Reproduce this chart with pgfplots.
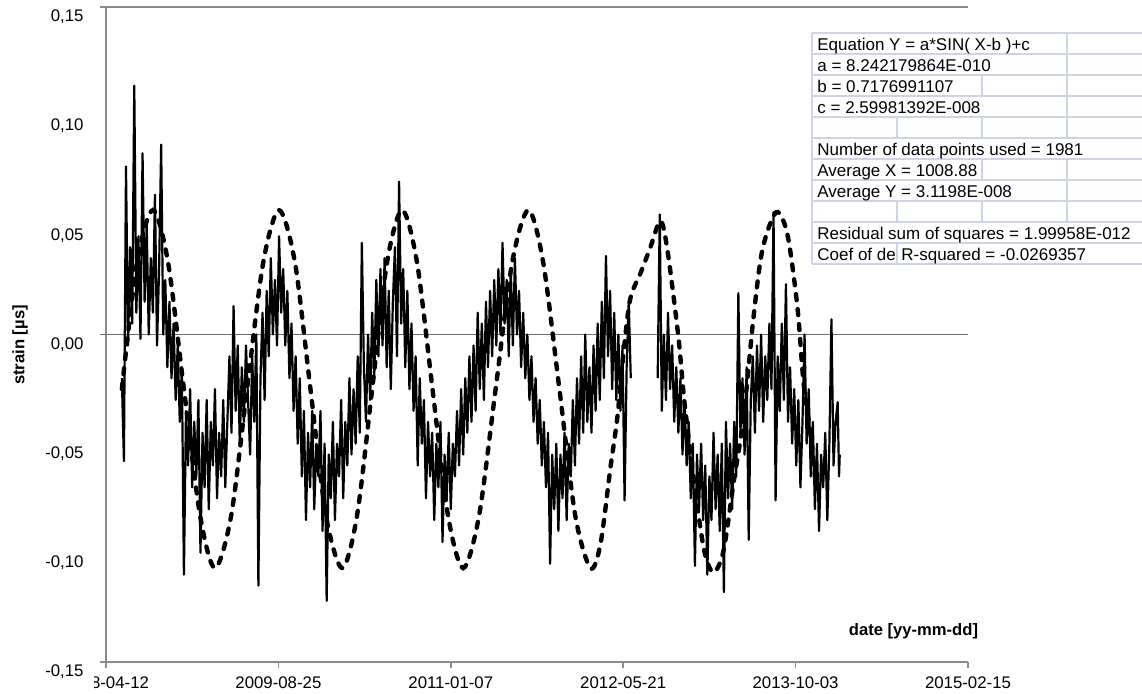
\documentclass[border=0pt]{standalone}
\usepackage{fontspec}
\setmainfont{Liberation Sans}
\usepackage{pgfplots}
\pgfplotsset{compat=1.18}
\definecolor{axgray}{RGB}{140,140,140}
\definecolor{zgray}{RGB}{110,110,110}
\definecolor{gridc}{RGB}{205,213,228}
\begin{document}
\begin{tikzpicture}
\path[use as bounding box] (-53pt,-15.5pt) rectangle (518pt,331pt);
\begin{axis}[
  at={(0,0)}, anchor=south west,
  scale only axis, width=431pt, height=327.5pt,
  xmin=0, xmax=2500, ymin=-0.15, ymax=0.15,
  axis lines*=left,
  axis line style={-, axgray, line width=0.75pt},
  xtick={0,500,1000,1500,2000,2500},
  xticklabels={,2009-08-25,2011-01-07,2012-05-21,2013-10-03,2015-02-15},
  ytick={-0.15,-0.1,-0.05,0,0.05,0.1,0.15},
  yticklabels={{-0,15},{-0,10},{-0,05},{0,00},{0,05},{0,10},{0,15}},
  tick align=outside, major tick length=3pt,
  xtick style={axgray, line width=0.75pt},
  ytick style={draw=none},
  xticklabel style={font=\fontsize{8.4}{10}\selectfont, anchor=north, inner sep=0pt, yshift=-4pt},
  yticklabel style={font=\fontsize{8.4}{10}\selectfont, anchor=east, inner sep=0pt, xshift=-8pt, yshift=-5pt},
  clip=false,
  unbounded coords=jump,
]
\draw[axgray, line width=1pt] ([xshift=-3pt]axis cs:0,0.15) -- (axis cs:2500,0.15);
\draw[zgray, line width=0.75pt] ([xshift=-3pt]axis cs:0,0) -- (axis cs:2500,0);
\draw[axgray, line width=0.75pt] ([xshift=-3pt]axis cs:0,-0.15) -- (axis cs:0,-0.15);
% measured strain
\addplot[black, line width=1.1pt, line join=round] coordinates {
(46,-0.020)(52,-0.058)(58,0.077)(64,-0.005)(70,0.040)(76,0.005)(82,0.114)(88,0.010)(94,0.045)(100,-0.002)
(106,0.083)(112,0.015)(118,0.050)(124,0.000)(130,0.035)(136,0.010)(142,0.064)(148,-0.005)(154,0.030)(160,0.087)
(166,0.000)(172,0.025)(178,-0.015)(184,0.015)(190,-0.020)(196,0.005)(202,-0.030)(208,-0.005)(214,-0.040)(220,-0.015)
(226,-0.110)(232,-0.035)(238,-0.060)(244,-0.025)(250,-0.070)(256,-0.040)(262,-0.065)(268,-0.030)(274,-0.100)(280,-0.045)
(286,-0.070)(292,-0.030)(298,-0.080)(304,-0.040)(310,-0.060)(316,-0.025)(322,-0.075)(328,-0.045)(334,-0.065)(340,-0.030)
(346,-0.070)(352,-0.040)(358,-0.010)(364,-0.045)(370,0.013)(376,-0.035)(382,-0.005)(388,-0.050)(394,-0.015)(400,-0.040)
(406,-0.005)(412,-0.030)(418,-0.055)(424,-0.010)(430,-0.040)(436,0.000)(442,-0.115)(448,-0.020)(454,0.010)(460,-0.030)
(466,0.020)(472,-0.010)(478,0.035)(484,0.000)(490,0.025)(496,-0.005)(502,0.045)(508,0.010)(514,0.030)(520,-0.005)
(526,0.020)(532,-0.020)(538,0.005)(544,-0.035)(550,-0.010)(556,-0.050)(562,-0.020)(568,-0.065)(574,-0.035)(580,-0.085)
(586,-0.045)(592,-0.070)(598,-0.035)(604,-0.080)(610,-0.050)(616,-0.065)(622,-0.035)(628,-0.090)(634,-0.050)(640,-0.122)
(646,-0.055)(652,-0.075)(658,-0.040)(664,-0.085)(670,-0.050)(676,-0.065)(682,-0.030)(688,-0.075)(694,-0.040)(700,-0.060)
(706,-0.020)(712,-0.055)(718,-0.025)(724,-0.050)(730,-0.010)(736,-0.045)(742,0.042)(748,-0.015)(754,-0.040)(760,0.000)
(766,-0.030)(772,0.010)(778,-0.020)(784,0.025)(790,-0.010)(796,0.030)(802,-0.005)(808,0.035)(814,-0.015)(820,0.020)
(826,-0.025)(832,0.015)(838,0.040)(844,-0.010)(850,0.070)(856,0.005)(862,0.030)(868,-0.015)(874,0.020)(880,-0.025)
(886,0.005)(892,-0.035)(898,-0.010)(904,-0.060)(910,-0.020)(916,-0.050)(922,-0.030)(928,-0.075)(934,-0.040)(940,-0.065)
(946,-0.045)(952,-0.085)(958,-0.050)(964,-0.070)(970,-0.040)(976,-0.095)(982,-0.055)(988,-0.075)(994,-0.045)(1000,-0.080)
(1006,-0.050)(1012,-0.065)(1018,-0.035)(1024,-0.060)(1030,-0.025)(1036,-0.055)(1042,-0.020)(1048,-0.045)(1054,-0.010)(1060,-0.040)
(1066,-0.005)(1072,-0.035)(1078,0.010)(1084,-0.025)(1090,0.005)(1096,-0.030)(1102,0.015)(1108,-0.015)(1114,0.020)(1120,-0.010)
(1126,0.025)(1132,-0.005)(1138,0.030)(1144,0.000)(1150,0.042)(1156,0.005)(1162,0.025)(1168,-0.010)(1174,0.030)(1180,-0.005)
(1186,0.035)(1192,0.000)(1198,0.020)(1204,-0.015)(1210,0.010)(1216,-0.020)(1222,0.000)(1228,-0.030)(1234,-0.010)(1240,-0.040)
(1246,-0.020)(1252,-0.050)(1258,-0.030)(1264,-0.060)(1270,-0.040)(1276,-0.070)(1282,-0.045)(1288,-0.105)(1294,-0.055)(1300,-0.080)
(1306,-0.050)(1312,-0.090)(1318,-0.055)(1324,-0.075)(1330,-0.045)(1336,-0.085)(1342,-0.050)(1348,-0.065)(1354,-0.030)(1360,-0.060)
(1366,-0.020)(1372,-0.050)(1378,-0.010)(1384,-0.045)(1390,0.000)(1396,-0.040)(1402,-0.015)(1408,-0.045)(1414,-0.005)(1420,-0.035)
(1426,0.005)(1432,-0.030)(1438,0.015)(1444,-0.020)(1450,0.036)(1456,-0.010)(1462,0.020)(1468,-0.025)(1474,0.010)(1480,-0.030)
(1486,0.000)(1492,-0.035)(1498,-0.005)(1504,-0.076)(1510,-0.015)(1516,0.015)(1522,-0.020)(1560,nan)
(1600,-0.020)(1606,0.055)(1612,-0.035)(1618,0.000)(1624,-0.030)(1630,0.010)(1636,-0.025)(1642,-0.005)(1648,-0.040)(1654,-0.015)
(1660,-0.045)(1666,-0.020)(1672,-0.055)(1678,-0.030)(1684,-0.060)(1690,-0.040)(1696,-0.075)(1702,-0.050)(1708,-0.106)(1714,-0.055)
(1720,-0.080)(1726,-0.050)(1732,-0.085)(1738,-0.060)(1744,-0.110)(1750,-0.065)(1756,-0.085)(1762,-0.045)(1768,-0.080)(1774,-0.055)
(1780,-0.090)(1786,-0.050)(1792,-0.118)(1798,-0.040)(1804,-0.075)(1810,-0.050)(1816,-0.080)(1822,-0.040)(1828,-0.065)(1834,0.019)
(1840,-0.045)(1846,-0.020)(1852,-0.055)(1858,-0.015)(1864,-0.094)(1870,-0.030)(1876,-0.010)(1882,-0.045)(1888,-0.005)(1894,-0.035)
(1900,0.000)(1906,-0.040)(1912,-0.010)(1918,-0.030)(1924,0.005)(1930,-0.025)(1936,0.056)(1942,-0.076)(1948,-0.010)(1954,-0.035)
(1960,0.005)(1966,-0.030)(1972,0.023)(1978,-0.040)(1984,-0.015)(1990,-0.050)(1996,-0.025)(2002,-0.060)(2008,-0.030)(2014,-0.070)
(2020,-0.040)(2026,0.000)(2032,-0.050)(2038,-0.025)(2044,-0.065)(2050,-0.040)(2056,-0.080)(2062,-0.050)(2068,-0.090)(2074,-0.055)
(2080,-0.070)(2086,-0.045)(2092,-0.085)(2098,-0.050)(2104,0.007)(2110,-0.060)(2116,-0.040)(2122,-0.031)(2126,-0.065)(2128,-0.055)
};
% fitted sine
\addplot[black, line width=2.2pt, dash pattern=on 3pt off 4.5pt, line cap=round, smooth] coordinates {
(46,-0.025)(90,0.033)(136,0.057)(180,0.033)(226,-0.025)(273,-0.083)(316,-0.107)(363,-0.083)(409,-0.025)(456,0.033)
(502,0.057)(548,0.033)(593,-0.025)(638,-0.083)(685,-0.107)(728,-0.083)(772,-0.025)(815,0.033)(859,0.057)(902,0.033)
(947,-0.025)(992,-0.083)(1036,-0.107)(1082,-0.083)(1130,-0.025)(1178,0.033)(1225,0.057)(1268,0.033)(1315,-0.025)(1361,-0.083)
(1405,-0.107)(1434,-0.096)(1463,-0.061)(1483,-0.038)(1500,-0.010)(1520,0.016)(1550,0.028)(1579,0.040)(1608,0.052)(1628,0.039)
(1660,-0.001)(1677,-0.030)(1706,-0.068)(1735,-0.099)(1762,-0.109)(1791,-0.099)(1820,-0.068)(1849,-0.038)(1878,0.008)(1904,0.039)
(1944,0.056)(1976,0.046)(2005,0.013)(2023,-0.022)(2043,-0.045)(2058,-0.068)
};
\end{axis}
% first date label, partly hidden as in the reference
\begin{scope}
\clip (-5.5pt,-16pt) rectangle (40pt,-1pt);
\node[anchor=north, inner sep=0pt, font=\fontsize{8.4}{10}\selectfont] at (0pt,-7pt) {2008-04-12};
\end{scope}
% axis titles
\node[rotate=90, font=\bfseries\fontsize{8.3}{10}\selectfont] at (-43pt,158.5pt) {strain [µs]};
\node[font=\bfseries\fontsize{8.3}{10}\selectfont] at (403.75pt,15.5pt) {date [yy-mm-dd]};
% regression summary table
\fill[white] (353pt,199pt) rectangle (518pt,314.5pt);
\foreach \yy in {314.5,304,293.5,283,272.5,262,251.5,241,230.5,220,209.5,199}
  \draw[gridc, line width=0.6pt] (353pt,\yy pt) -- (518pt,\yy pt);
\draw[gridc, line width=0.6pt] (353pt,199pt) -- (353pt,314.5pt);
\draw[gridc, line width=0.6pt] (480.5pt,314.5pt) -- (480.5pt,262pt);
\draw[gridc, line width=0.6pt] (480.5pt,251.5pt) -- (480.5pt,220pt);
\draw[gridc, line width=0.6pt] (438pt,293.5pt) -- (438pt,283pt);
\draw[gridc, line width=0.6pt] (438pt,272.5pt) -- (438pt,262pt);
\draw[gridc, line width=0.6pt] (438pt,251.5pt) -- (438pt,241pt);
\draw[gridc, line width=0.6pt] (438pt,230.5pt) -- (438pt,220pt);
\draw[gridc, line width=0.6pt] (395.5pt,272.5pt) -- (395.5pt,262pt);
\draw[gridc, line width=0.6pt] (395.5pt,230.5pt) -- (395.5pt,220pt);
\draw[gridc, line width=0.6pt] (395.5pt,209.5pt) -- (395.5pt,199pt);
\begin{scope}[every node/.style={anchor=base west, inner sep=0pt, font=\fontsize{8.5}{10}\selectfont}]
\node at (355.5pt,305.8pt) {Equation Y = a*SIN( X-b )+c};
\node at (355.5pt,295.3pt) {a = 8.242179864E-010};
\node at (355.5pt,284.8pt) {b = 0.7176991107};
\node at (355.5pt,274.3pt) {c = 2.59981392E-008};
\node at (355.5pt,253.3pt) {Number of data points used = 1981};
\node at (355.5pt,242.8pt) {Average X = 1008.88};
\node at (355.5pt,232.3pt) {Average Y = 3.1198E-008};
\node at (355.5pt,211.3pt) {Residual sum of squares = 1.99958E-012};
\node at (355.5pt,200.8pt) {Coef of de};
\node at (397.5pt,200.8pt) {R-squared = -0.0269357};
\end{scope}
\end{tikzpicture}
\end{document}
